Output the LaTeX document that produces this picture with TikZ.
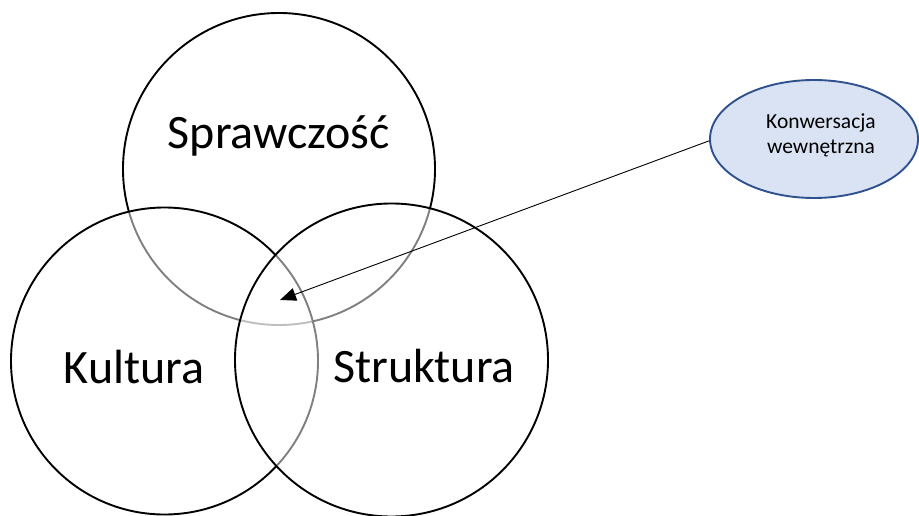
\documentclass[tikz,border=0pt]{standalone}
\usepackage{fontspec}
\setmainfont{Carlito}
\usetikzlibrary{shapes.geometric,arrows.meta}
\definecolor{bubblefill}{HTML}{DAE3F3}
\definecolor{bubbleline}{HTML}{2F528F}
\begin{document}
\begin{tikzpicture}[x=1pt, y=-1pt,
	set/.style={circle, draw=black, line width=1.9pt, fill=white, fill opacity=0.5, draw opacity=1, inner sep=0pt},
	big/.style={font=\fontsize{48}{58}\selectfont, anchor=base},
	small/.style={font=\fontsize{21.5}{25}\selectfont, align=center}]
	\useasboundingbox (0,0) rectangle (919,516);
	% three sets
	\node[set, minimum size=312pt] (agency) at (279,169) {};
	\node[set, minimum size=307pt] (culture) at (164.5,361) {};
	\node[set, minimum size=313pt] (structure) at (391.5,360) {};
	\node[big] (agencytext) at (279,149) {Sprawczość};
	\node[big] (culturetext) at (134,383) {Kultura};
	\node[big] (structuretext) at (424,382) {Struktura};
	% inner conversation
	\node[ellipse, draw=bubbleline, fill=bubblefill, line width=1.9pt, minimum width=208pt, minimum height=118pt, inner sep=0pt] (conv) at (814,139) {};
	\node[small] (convtext) at (821,135) {Konwersacja\\wewnętrzna};
	\coordinate (tip) at (280,300);
	\draw[-{Triangle[length=16pt,width=13pt]}, line width=0.9pt] (conv.181.5) -- (tip);
	%\draw[->] (conv) -- (agency);
\end{tikzpicture}
\end{document}
